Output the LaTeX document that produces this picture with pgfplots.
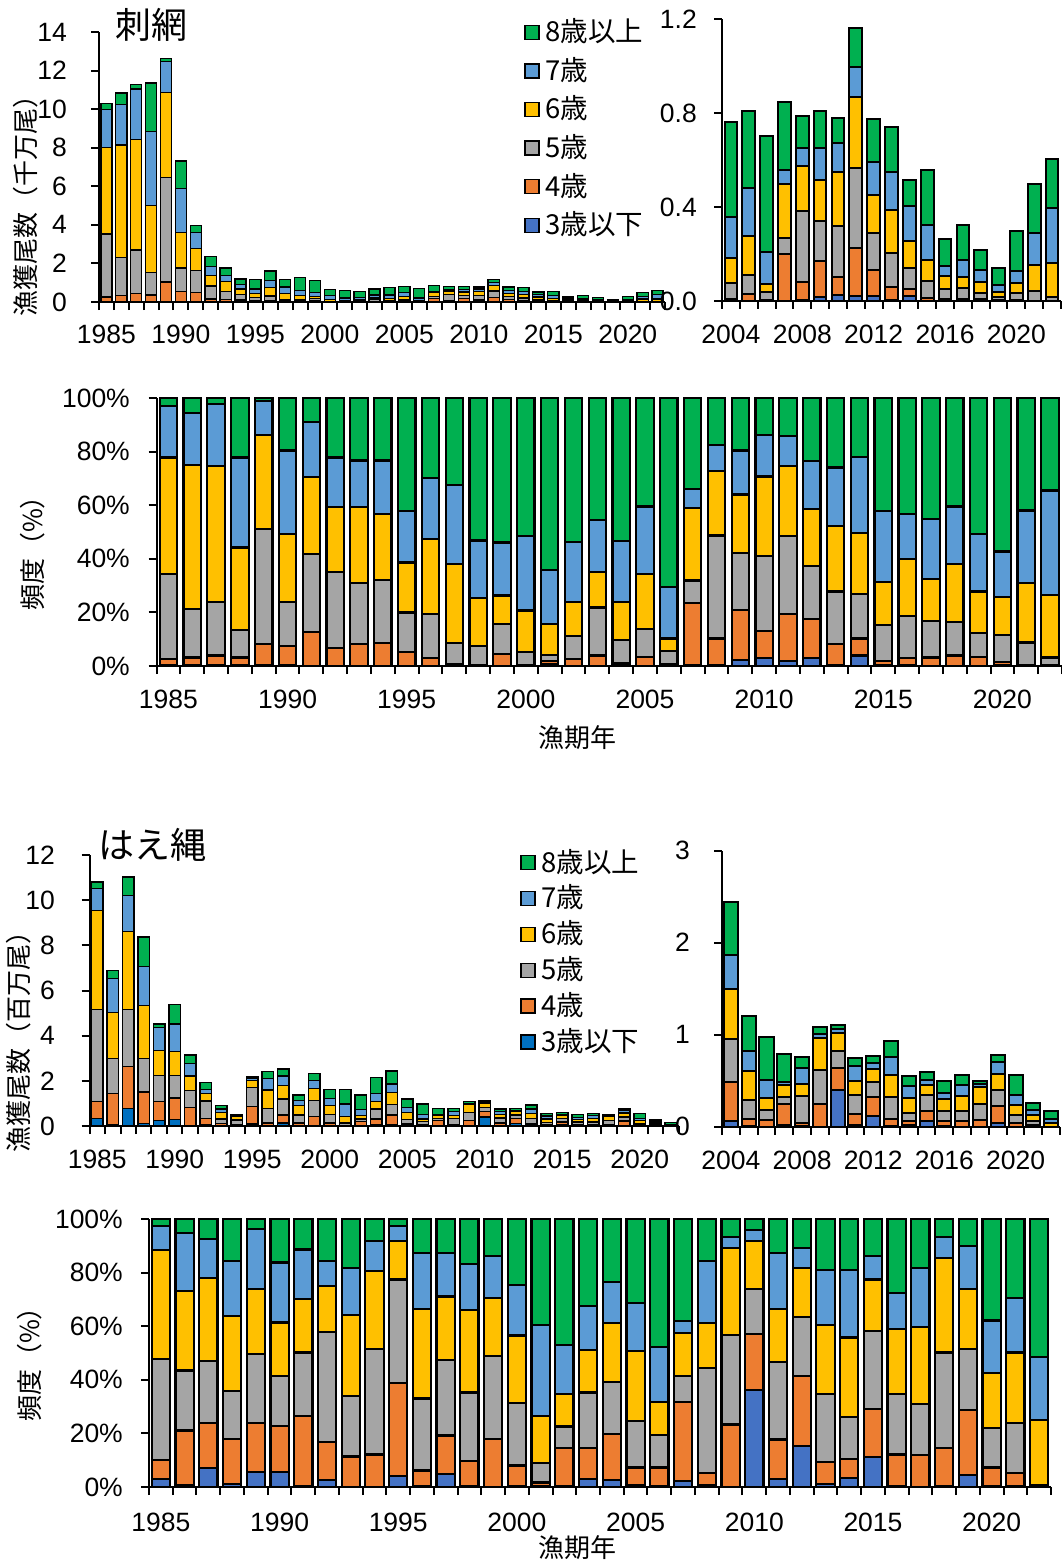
\documentclass[border=0pt]{standalone}
\usepackage{fontspec}
\usepackage{pgfplots}
\usepackage{pgfplotstable}
\pgfplotsset{compat=1.18}
\setmainfont{Liberation Sans}
\newfontfamily\cjk{Noto Sans CJK JP}

\definecolor{c3}{HTML}{4472C4}
\definecolor{c3b}{HTML}{0070C0}
\definecolor{c4}{HTML}{ED7D31}
\definecolor{c5}{HTML}{A5A5A5}
\definecolor{c6}{HTML}{FFC000}
\definecolor{c7}{HTML}{5B9BD5}
\definecolor{c8}{HTML}{00B050}

\newcommand\tk{\fontsize{26.5}{30}\selectfont}
\newcommand\lb{\cjk\fontsize{26}{30}\selectfont}
\newcommand\lgd{\cjk\fontsize{27.5}{30}\selectfont}
\newcommand\ttl{\cjk\fontsize{36}{40}\selectfont}

% gillnet, catch in 10^7 fish, by age
\pgfplotstableread{
yr a3 a4 a5 a6 a7 a8
1985 0.03 0.23 3.26 4.48 1.98 0.30
1986 0.03 0.31 1.95 5.85 2.09 0.61
1987 0.03 0.41 2.25 5.72 2.64 0.24
1988 0.02 0.34 1.16 3.50 3.82 2.52
1989 0.03 1.01 5.41 4.41 1.60 0.15
1990 0.03 0.52 1.21 1.84 2.28 1.43
1991 0.00 0.50 1.14 1.14 0.81 0.36
1992 0.00 0.16 0.67 0.56 0.44 0.52
1993 0.00 0.14 0.41 0.50 0.31 0.41
1994 0.00 0.10 0.28 0.30 0.24 0.28
1995 0.00 0.06 0.17 0.22 0.22 0.49
1996 0.00 0.05 0.26 0.45 0.37 0.48
1997 0.00 0.01 0.09 0.34 0.34 0.38
1998 0.00 0.01 0.09 0.22 0.27 0.67
1999 0.00 0.05 0.12 0.12 0.22 0.59
2000 0.00 0.00 0.03 0.10 0.19 0.34
2001 0.00 0.01 0.01 0.07 0.12 0.38
2002 0.00 0.01 0.05 0.07 0.12 0.29
2003 0.00 0.03 0.12 0.09 0.13 0.30
2004 0.002 0.008 0.065 0.109 0.172 0.405
2005 0.001 0.027 0.082 0.167 0.203 0.327
2006 0.001 0.004 0.035 0.033 0.135 0.494
2007 0.002 0.196 0.072 0.228 0.061 0.286
2008 0.004 0.077 0.303 0.191 0.076 0.137
2009 0.018 0.151 0.173 0.175 0.132 0.158
2010 0.024 0.078 0.218 0.231 0.120 0.108
2011 0.022 0.202 0.341 0.301 0.130 0.166
2012 0.022 0.112 0.155 0.164 0.140 0.181
2013 0.003 0.057 0.146 0.181 0.161 0.191
2014 0.020 0.033 0.086 0.117 0.147 0.114
2015 0.001 0.010 0.074 0.089 0.148 0.236
2016 0.001 0.007 0.041 0.056 0.044 0.113
2017 0.000 0.010 0.044 0.050 0.072 0.146
2018 0.000 0.008 0.027 0.048 0.047 0.089
2019 0.000 0.005 0.012 0.022 0.030 0.071
2020 0.001 0.004 0.030 0.042 0.050 0.170
2021 0.000 0.001 0.042 0.110 0.135 0.209
2022 0.000 0.002 0.017 0.141 0.235 0.208
}\gillabs

% gillnet, share by age (%)
\pgfplotstableread{
yr p3 p4 p5 p6 p7 p8
1985 0.3 2.2 31.7 43.6 19.3 2.9
1986 0.3 2.9 18.0 53.9 19.3 5.6
1987 0.3 3.6 19.9 50.7 23.4 2.1
1988 0.2 3.0 10.2 30.8 33.6 22.2
1989 0.2 8.0 42.9 35.0 12.7 1.2
1990 0.4 7.1 16.5 25.2 31.2 19.6
1991 0.1 12.7 28.9 28.8 20.5 9.0
1992 0.1 6.7 28.4 24.0 18.6 22.2
1993 0.1 8.1 22.9 28.1 17.5 23.3
1994 0.1 8.6 23.4 24.6 20.0 23.3
1995 0.1 5.0 14.9 18.6 19.3 42.1
1996 0.1 3.0 16.3 28.0 22.7 29.9
1997 0.1 0.6 7.8 29.5 29.6 32.4
1998 0.0 0.4 7.1 17.8 21.5 53.2
1999 0.1 4.3 11.2 10.7 19.8 53.9
2000 0.0 0.4 4.7 15.6 27.9 51.4
2001 0.7 1.3 2.1 11.6 20.2 64.1
2002 0.1 2.4 8.8 12.7 22.4 53.6
2003 0.1 3.8 17.9 13.4 19.3 45.5
2004 0.2 1.0 8.5 14.3 22.7 53.3
2005 0.1 3.4 10.2 20.7 25.1 40.5
2006 0.1 0.5 5.0 4.7 19.3 70.4
2007 0.2 23.2 8.5 27.0 7.2 33.9
2008 0.5 9.8 38.4 24.2 9.7 17.4
2009 2.2 18.7 21.4 21.7 16.4 19.6
2010 3.1 10.0 28.0 29.6 15.4 13.9
2011 1.9 17.4 29.3 25.9 11.2 14.3
2012 2.9 14.5 20.0 21.1 18.1 23.4
2013 0.4 7.7 19.7 24.5 21.8 25.9
2014 3.9 6.4 16.6 22.7 28.4 22.0
2015 0.2 1.8 13.3 16.0 26.4 42.3
2016 0.3 2.6 15.8 21.2 16.9 43.2
2017 0.1 3.1 13.6 15.6 22.4 45.2
2018 0.1 3.8 12.4 21.7 21.5 40.5
2019 0.1 3.4 8.7 15.6 21.4 50.8
2020 0.3 1.3 10.0 14.1 17.0 57.3
2021 0.0 0.3 8.5 22.1 27.1 42.0
2022 0.0 0.3 2.9 23.3 39.0 34.5
}\gillpct

% longline, catch in 10^6 fish, by age
\pgfplotstableread{
yr a3 a4 a5 a6 a7 a8
1985 0.32 0.78 4.07 4.38 0.97 0.29
1986 0.06 1.39 1.54 2.03 1.50 0.36
1987 0.78 1.85 2.54 3.43 1.60 0.83
1988 0.10 1.40 1.49 2.36 1.70 1.32
1989 0.25 0.83 1.16 1.10 1.01 0.17
1990 0.30 0.94 0.99 1.08 1.21 0.87
1991 0.02 0.81 0.75 0.63 0.57 0.36
1992 0.05 0.27 0.79 0.33 0.18 0.30
1993 0.00 0.10 0.21 0.28 0.16 0.17
1994 0.00 0.06 0.20 0.15 0.06 0.04
1995 0.09 0.76 0.84 0.31 0.12 0.06
1996 0.00 0.14 0.65 0.81 0.50 0.31
1997 0.13 0.36 0.71 0.60 0.41 0.32
1998 0.01 0.13 0.35 0.42 0.23 0.23
1999 0.00 0.42 0.72 0.51 0.36 0.32
2000 0.01 0.12 0.38 0.41 0.31 0.40
2001 0.00 0.02 0.12 0.29 0.55 0.64
2002 0.01 0.19 0.11 0.17 0.25 0.64
2003 0.06 0.25 0.44 0.34 0.35 0.70
2004 0.061 0.425 0.468 0.539 0.371 0.576
2005 0.011 0.077 0.206 0.314 0.216 0.376
2006 0.002 0.069 0.116 0.120 0.199 0.464
2007 0.017 0.233 0.077 0.128 0.034 0.302
2008 0.007 0.033 0.298 0.128 0.175 0.120
2009 0.000 0.252 0.360 0.352 0.044 0.072
2010 0.401 0.234 0.186 0.199 0.043 0.047
2011 0.023 0.110 0.217 0.149 0.157 0.095
2012 0.119 0.201 0.169 0.141 0.058 0.083
2013 0.011 0.075 0.237 0.240 0.191 0.176
2014 0.019 0.040 0.085 0.163 0.139 0.104
2015 0.066 0.106 0.171 0.114 0.051 0.082
2016 0.003 0.058 0.114 0.122 0.067 0.138
2017 0.000 0.066 0.108 0.160 0.124 0.102
2018 0.001 0.072 0.178 0.176 0.040 0.034
2019 0.036 0.187 0.179 0.175 0.126 0.078
2020 0.001 0.040 0.082 0.115 0.110 0.212
2021 0.001 0.013 0.049 0.068 0.053 0.077
2022 0.000 0.000 0.001 0.041 0.040 0.088
}\lineabs

% longline, share by age (%)
\pgfplotstableread{
yr p3 p4 p5 p6 p7 p8
1985 3.0 7.2 37.6 40.5 9.0 2.7
1986 0.9 20.2 22.4 29.5 21.8 5.2
1987 7.1 16.8 23.0 31.1 14.5 7.5
1988 1.2 16.7 17.8 28.2 20.3 15.8
1989 5.5 18.4 25.7 24.3 22.4 3.7
1990 5.5 17.4 18.4 20.1 22.4 16.2
1991 0.5 25.9 23.8 20.1 18.3 11.4
1992 2.5 14.3 41.0 17.1 9.3 15.8
1993 0.0 11.4 22.7 30.2 17.4 18.3
1994 0.0 12.1 39.4 29.0 11.2 8.3
1995 4.0 34.8 38.6 14.3 5.6 2.7
1996 0.2 6.0 26.8 33.5 20.8 12.7
1997 5.0 14.2 28.1 23.8 16.2 12.7
1998 0.5 9.3 25.5 30.9 17.1 16.7
1999 0.0 17.9 30.9 21.7 15.6 13.9
2000 0.5 7.5 23.3 25.2 19.0 24.5
2001 0.2 1.5 7.3 17.6 34.0 39.4
2002 0.5 14.1 8.0 12.2 18.3 46.9
2003 3.0 11.6 20.7 15.9 16.2 32.6
2004 2.5 17.4 19.2 22.1 15.2 23.6
2005 0.9 6.4 17.2 26.2 18.0 31.3
2006 0.2 7.1 12.0 12.4 20.5 47.8
2007 2.1 29.5 9.7 16.2 4.3 38.2
2008 0.9 4.3 39.2 16.8 23.0 15.8
2009 0.0 23.3 33.3 32.6 4.1 6.7
2010 36.1 21.1 16.8 17.9 3.9 4.2
2011 3.0 14.7 28.9 19.8 20.9 12.7
2012 15.4 26.1 21.9 18.3 7.5 10.8
2013 1.2 8.1 25.5 25.8 20.5 18.9
2014 3.4 7.2 15.5 29.7 25.3 18.9
2015 11.2 17.9 29.0 19.3 8.7 13.9
2016 0.5 11.6 22.7 24.3 13.3 27.6
2017 0.0 11.8 19.3 28.5 22.1 18.3
2018 0.2 14.4 35.6 35.2 7.9 6.7
2019 4.6 24.0 22.9 22.4 16.1 10.0
2020 0.2 7.1 14.7 20.5 19.6 37.9
2021 0.2 5.0 18.7 26.3 20.3 29.5
2022 0.0 0.2 0.7 24.2 23.4 51.5
}\linepct

\pgfplotsset{
  panel/.style={
    scale only axis, axis lines*=left, ybar stacked, bar width=#1,
    tick align=outside,
    axis line style={line width=2pt},
    tick style={line width=2pt, black},
    major tick length=8pt,
    tick label style={font=\tk},
    yticklabel style={anchor=east, inner sep=0pt},
    xticklabel style={anchor=north, inner sep=0pt},
    xtick={1984.5,1985.5,...,2022.5}, xticklabels={},
    extra x tick style={major tick length=0pt, tick style={draw=none}},
  },
  agelegend/.style={
    legend style={draw=none, fill=none, inner sep=0pt, outer sep=0pt,
      font=\lgd, row sep=#1,
      nodes={inner sep=1pt, text height=22pt, text depth=5pt},
      /tikz/every odd column/.append style={column sep=5pt}},
    legend cell align=left, reverse legend,
    legend image code/.code={\draw[##1,line width=1.5pt] (0pt,-6pt) rectangle (14pt,8pt);},
    legend entries={3歳以下,4歳,5歳,6歳,7歳,8歳以上},
  },
}

% #1 table, #2 column prefix, #3 border width, #4 colour of the youngest group
\newcommand\agestack[4]{%
  \addplot[fill=#4, draw=black, line width=#3] table[x=yr, y=#23] {#1};
  \addplot[fill=c4, draw=black, line width=#3] table[x=yr, y=#24] {#1};
  \addplot[fill=c5, draw=black, line width=#3] table[x=yr, y=#25] {#1};
  \addplot[fill=c6, draw=black, line width=#3] table[x=yr, y=#26] {#1};
  \addplot[fill=c7, draw=black, line width=#3] table[x=yr, y=#27] {#1};
  \addplot[fill=c8, draw=black, line width=#3] table[x=yr, y=#28] {#1};
}

\begin{document}
\begin{tikzpicture}
\path[use as bounding box] (0pt,0pt) rectangle (1062pt,-1566pt);

% ---------- gillnet ----------
\begin{axis}[panel=0.75, at={(99pt,-302pt)}, anchor=south west,
  width=566pt, height=270pt,
  xmin=1984.5, xmax=2022.5, ymin=0, ymax=14,
  ytick={0,2,...,14}, yticklabels={0,2,4,6,8,10,12,14},
  yticklabel style={xshift=-24pt},
  extra x ticks={1985,1990,...,2020},
  extra x tick labels={1985,1990,1995,2000,2005,2010,2015,2020},
  xticklabel style={yshift=-23pt},
  agelegend=9.6pt,
  legend style={at={(axis description cs:0.751,1.049)}, anchor=north west},
]
\agestack{\gillabs}{a}{1.3pt}{c3}
\end{axis}

\begin{axis}[panel=0.71, at={(722pt,-301pt)}, anchor=south west,
  width=339pt, height=282pt,
  xmin=2003.5, xmax=2022.5, ymin=0, ymax=1.2,
  ytick={0,0.4,0.8,1.2}, yticklabels={0.0,0.4,0.8,1.2},
  yticklabel style={xshift=-17pt},
  extra x ticks={2004,2008,...,2020},
  extra x tick labels={2004,2008,2012,2016,2020},
  xticklabel style={yshift=-24pt},
]
\agestack{\gillabs}{a}{2pt}{c3}
\end{axis}

\begin{axis}[panel=0.73, at={(156.5pt,-666pt)}, anchor=south west,
  width=905.5pt, height=268pt, clip=false,
  xmin=1984.5, xmax=2022.5, ymin=0, ymax=100,
  ytick={0,20,...,100}, yticklabels={0\%,20\%,40\%,60\%,80\%,100\%},
  yticklabel style={xshift=-18.5pt},
  extra x ticks={1985,1990,...,2020},
  extra x tick labels={1985,1990,1995,2000,2005,2010,2015,2020},
  xticklabel style={yshift=-24pt},
]
\agestack{\gillpct}{p}{2.2pt}{c3}
\end{axis}

% ---------- longline ----------
\begin{axis}[panel=0.75, at={(89.5pt,-1126pt)}, anchor=south west,
  width=589pt, height=271pt,
  xmin=1984.5, xmax=2022.5, ymin=0, ymax=12,
  ytick={0,2,...,12}, yticklabels={0,2,4,6,8,10,12},
  yticklabel style={xshift=-26.5pt},
  extra x ticks={1985,1990,...,2020},
  extra x tick labels={1985,1990,1995,2000,2005,2010,2015,2020},
  xticklabel style={yshift=-24pt},
  agelegend=6.9pt,
  legend style={at={(axis description cs:0.731,1.022)}, anchor=north west},
]
\agestack{\lineabs}{a}{1.3pt}{c3b}
\end{axis}

\begin{axis}[panel=0.79, at={(722pt,-1126.7pt)}, anchor=south west,
  width=338pt, height=276pt,
  xmin=2003.5, xmax=2022.5, ymin=0, ymax=3,
  ytick={0,1,2,3}, yticklabels={0,1,2,3},
  yticklabel style={xshift=-24pt},
  extra x ticks={2004,2008,...,2020},
  extra x tick labels={2004,2008,2012,2016,2020},
  xticklabel style={yshift=-24pt},
]
\agestack{\lineabs}{a}{2pt}{c3}
\end{axis}

\begin{axis}[panel=0.77, at={(149pt,-1487pt)}, anchor=south west,
  width=902pt, height=268pt, clip=false,
  xmin=1984.5, xmax=2022.5, ymin=0, ymax=100,
  ytick={0,20,...,100}, yticklabels={0\%,20\%,40\%,60\%,80\%,100\%},
  yticklabel style={xshift=-18pt},
  extra x ticks={1985,1990,...,2020},
  extra x tick labels={1985,1990,1995,2000,2005,2010,2015,2020},
  xticklabel style={yshift=-26pt},
]
\agestack{\linepct}{p}{2.2pt}{c3}
\end{axis}

% titles and axis captions
\node[font=\ttl] at (151pt,-25pt) {刺網};
\node[font=\lb, rotate=90] at (26pt,-199pt) {漁獲尾数（千万尾）};
\node[font=\lb, rotate=90] at (33pt,-547pt) {頻度（\%）};
\node[font=\lb] at (577pt,-738pt) {漁期年};
\node[font=\ttl] at (152pt,-845pt) {はえ縄};
\node[font=\lb, rotate=90] at (18.5pt,-1035pt) {漁獲尾数（百万尾）};
\node[font=\lb, rotate=90] at (30pt,-1358pt) {頻度（\%）};
\node[font=\lb] at (577pt,-1548pt) {漁期年};
\end{tikzpicture}
\end{document}
